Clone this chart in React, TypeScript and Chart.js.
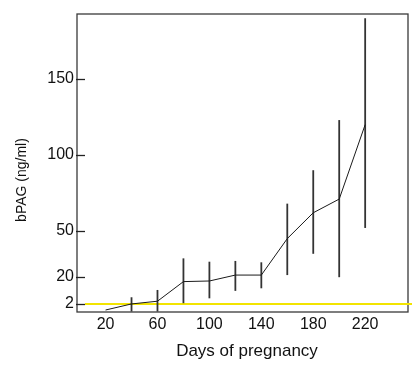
import React, { useEffect, useRef } from "react";
import { Chart, registerables } from "chart.js";

Chart.register(...registerables);

const days = [20, 40, 60, 80, 100, 120, 140, 160, 180, 200, 220];
const means = [-2, 2, 3.8, 16.7, 17.1, 21, 21, 45, 62, 71, 120];
const lows = [null, -3, -3, 2.5, 5.7, 10.6, 12.3, 21, 35, 19.6, 52];
const highs = [null, 6.4, 11.2, 32, 29.8, 30.3, 29.4, 68, 90, 123, 190];
const xTickValues = [20, 60, 100, 140, 180, 220];
const yTickValues = [2, 20, 50, 100, 150];
const referenceLevel = 2;
const xTitle = "Days of pregnancy";
const yTitle = "bPAG (ng/ml)";

const FONT = "'Liberation Sans', Arial, sans-serif";

const overlayPlugin = {
  id: "overlay",
  beforeDatasetsDraw(chart: any) {
    const { ctx, chartArea } = chart;
    const xs = chart.scales.x;
    const ys = chart.scales.y;
    ctx.save();
    // frame
    ctx.strokeStyle = "#3a3a3a";
    ctx.lineWidth = 1.3;
    ctx.strokeRect(chartArea.left, chartArea.top, chartArea.right - chartArea.left, chartArea.bottom - chartArea.top);
    // y tick marks
    ctx.strokeStyle = "#222";
    ctx.lineWidth = 1.3;
    yTickValues.forEach((v) => {
      const y = Math.round(ys.getPixelForValue(v)) + 0.5;
      ctx.beginPath();
      ctx.moveTo(chartArea.left - 1, y);
      ctx.lineTo(chartArea.left + 8, y);
      ctx.stroke();
    });
    // yellow reference line
    const yy = ys.getPixelForValue(referenceLevel);
    ctx.strokeStyle = "#f2e400";
    ctx.lineWidth = 2;
    ctx.beginPath();
    ctx.moveTo(chartArea.left + 8, yy);
    ctx.lineTo(chartArea.right + 4, yy);
    ctx.stroke();
    // error bars
    ctx.strokeStyle = "#333";
    ctx.lineWidth = 1.8;
    days.forEach((d, i) => {
      const lo = lows[i];
      const hi = highs[i];
      if (lo == null || hi == null) return;
      const x = xs.getPixelForValue(d);
      ctx.beginPath();
      ctx.moveTo(x, ys.getPixelForValue(lo));
      ctx.lineTo(x, ys.getPixelForValue(hi));
      ctx.stroke();
    });
    // axis titles
    ctx.fillStyle = "#111";
    ctx.textAlign = "center";
    ctx.textBaseline = "middle";
    ctx.font = `17px ${FONT}`;
    ctx.fillText(xTitle, 247, 351);
    ctx.font = `14px ${FONT}`;
    ctx.translate(22, 180);
    ctx.rotate(-Math.PI / 2);
    ctx.fillText(yTitle, 0, 0);
    ctx.restore();
  },
};

export default function App() {
  const ref = useRef<HTMLCanvasElement>(null);
  useEffect(() => {
    document.body.style.margin = "0";
    const chart = new Chart(ref.current as HTMLCanvasElement, {
      type: "line",
      data: {
        datasets: [
          {
            data: days.map((d, i) => ({ x: d, y: means[i] })),
            borderColor: "#1a1a1a",
            borderWidth: 1,
            pointRadius: 0,
            tension: 0,
            fill: false,
          },
        ],
      },
      options: {
        animation: false,
        responsive: false,
        devicePixelRatio: 1,
        layout: { padding: { left: 0, right: 11, top: 14, bottom: 33.6 } },
        plugins: { legend: { display: false }, tooltip: { enabled: false } },
        scales: {
          x: {
            type: "linear",
            min: -2,
            max: 253,
            afterBuildTicks: (s: any) => {
              s.ticks = xTickValues.map((v) => ({ value: v }));
            },
            afterFit: (s: any) => {
              s.height = 46.4;
            },
            ticks: { font: { size: 16, family: FONT }, color: "#111", padding: 3, maxRotation: 0 },
            grid: { display: false, drawTicks: false },
            border: { display: false },
            title: { display: false },
          },
          y: {
            type: "linear",
            min: -3.3,
            max: 192.8,
            afterBuildTicks: (s: any) => {
              s.ticks = yTickValues.map((v) => ({ value: v }));
            },
            afterFit: (s: any) => {
              s.width = 77;
            },
            ticks: { font: { size: 16, family: FONT }, color: "#111", padding: 3 },
            grid: { display: false, drawTicks: false },
            border: { display: false },
          },
        },
      },
      plugins: [overlayPlugin],
    } as any);
    return () => chart.destroy();
  }, []);
  return <canvas ref={ref} width={419} height={392} style={{ display: "block" }} />;
}
